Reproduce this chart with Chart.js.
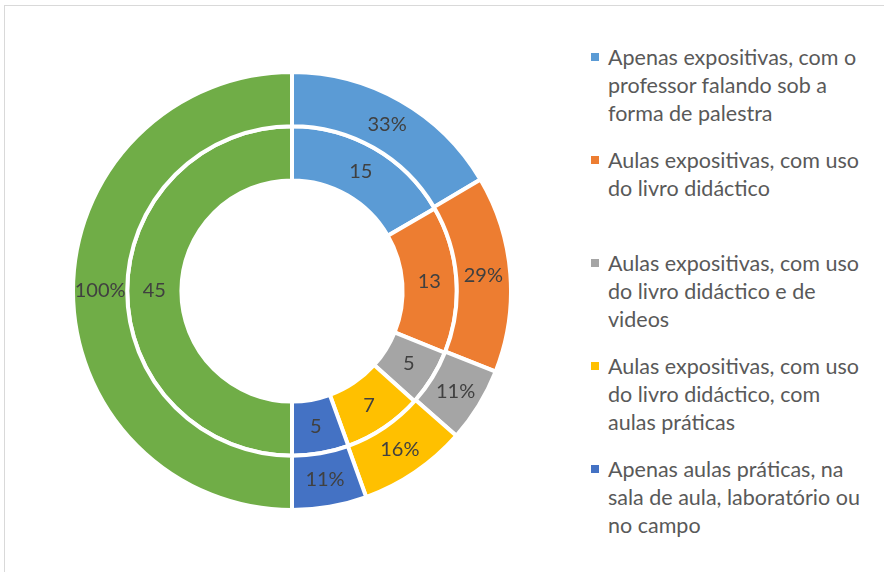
<!DOCTYPE html>
<html>
<head>
<meta charset="utf-8">
<script src="https://cdn.jsdelivr.net/npm/chart.js@4"></script>
<style>
  body { margin: 0; background: #fff; width: 884px; height: 572px; overflow: hidden; position: relative; }
  #frame { position: absolute; left: 4px; top: 5px; width: 900px; height: 600px; border: 1px solid #d9d9d9; }
  #wrap { position: absolute; left: 71px; top: 70px; width: 442px; height: 442px; }
  #legend { position: absolute; left: 590px; top: 43px; font-family: Lato, sans-serif; font-size: 21.5px; color: #595959; }
  .item { position: relative; height: 103px; line-height: 28px; padding-left: 18px; white-space: nowrap; }
  .box { position: absolute; left: 1px; top: 10px; width: 8px; height: 8px; }
</style>
</head>
<body>
<div id="frame"></div>
<div id="wrap"><canvas id="myChart"></canvas></div>
<div id="legend"></div>
<script>
// Categories (last one is the green filler, not in the legend)
const categories = [
    ['Apenas expositivas, com o', 'professor falando sob a', 'forma de palestra'],
    ['Aulas expositivas, com uso', 'do livro didáctico'],
    ['Aulas expositivas, com uso', 'do livro didáctico e de', 'videos'],
    ['Aulas expositivas, com uso', 'do livro didáctico, com', 'aulas práticas'],
    ['Apenas aulas práticas, na', 'sala de aula, laboratório ou', 'no campo'],
    ''
]
const counts = [15, 13, 5, 7, 5, 45]
const percents = [33, 29, 11, 16, 11, 100]
const colors = ['#5B9BD5', '#ED7D31', '#A5A5A5', '#FFC000', '#4472C4', '#70AD47']

// Draw the value labels on each slice
const sliceLabels = {
    id: 'sliceLabels',
    afterDatasetsDraw(chart) {
        const ctx = chart.ctx
        ctx.save()
        ctx.font = '20px Lato, sans-serif'
        ctx.fillStyle = '#404040'
        ctx.textAlign = 'center'
        ctx.textBaseline = 'middle'
        chart.data.datasets.forEach((ds, i) => {
            chart.getDatasetMeta(i).data.forEach((arc, j) => {
                const p = arc.tooltipPosition()
                ctx.fillText(ds.data[j] + ds.suffix, p.x, p.y)
            })
        })
        ctx.restore()
    }
}

const ctx = document.getElementById('myChart').getContext('2d')
const myChart = new Chart(ctx, {
    type: 'doughnut',
    data: {
        labels: categories,
        datasets: [{
            data: percents,
            suffix: '%',
            backgroundColor: colors,
            borderColor: '#fff',
            borderWidth: 4
        }, {
            data: counts,
            suffix: '',
            backgroundColor: colors,
            borderColor: '#fff',
            borderWidth: 4
        }]
    },
    options: {
        responsive: true,
        maintainAspectRatio: false,
        animation: false,
        cutout: '50.5%',
        plugins: {
            legend: { display: false },
            tooltip: { enabled: false }
        }
    },
    plugins: [sliceLabels]
})

// HTML legend
const legend = document.getElementById('legend')
categories.forEach((lines, i) => {
    if (!lines) return
    const item = document.createElement('div')
    item.className = 'item'
    item.innerHTML = '<span class="box" style="background:' + colors[i] + '"></span>' + lines.join('<br>')
    legend.appendChild(item)
})
</script>
</body>
</html>
